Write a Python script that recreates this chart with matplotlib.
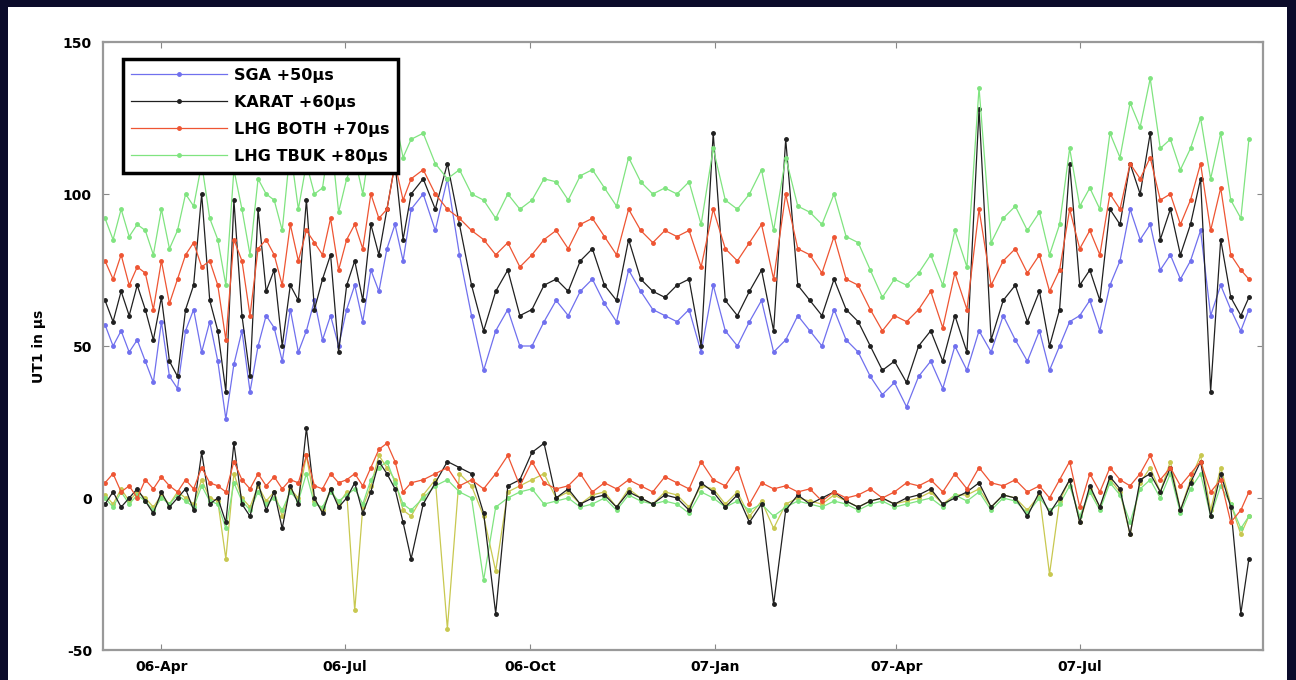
import numpy as np
import matplotlib
matplotlib.use("Agg")
import matplotlib.pyplot as plt
import matplotlib.dates as mdates
from matplotlib.patches import Rectangle

# ---- data -------------------------------------------------------------
start_date = "2006-03-04"
day_offsets = [
    0, 4, 8, 12, 16, 20, 24, 28, 32, 36,
    40, 44, 48, 52, 56, 60, 64, 68, 72, 76,
    80, 84, 88, 92, 96, 100, 104, 108, 112, 116,
    120, 124, 128, 132, 136, 140, 144, 148, 152, 158,
    164, 170, 176, 182, 188, 194, 200, 206, 212, 218,
    224, 230, 236, 242, 248, 254, 260, 266, 272, 278,
    284, 290, 296, 302, 308, 314, 320, 326, 332, 338,
    344, 350, 356, 362, 368, 374, 380, 386, 392, 398,
    404, 410, 416, 422, 428, 434, 440, 446, 452, 458,
    464, 469, 474, 479, 484, 489, 494, 499, 504, 509,
    514, 519, 524, 529, 534, 539, 544, 549, 554, 559,
    564, 568,
]

sga = [
    57, 50, 55, 48, 52, 45, 38, 58, 40, 36,
    55, 62, 48, 58, 45, 26, 44, 55, 35, 50,
    60, 56, 45, 62, 48, 55, 65, 52, 60, 50,
    62, 70, 58, 75, 68, 82, 90, 78, 95, 100,
    88, 105, 80, 60, 42, 55, 62, 50, 50, 58,
    65, 60, 68, 72, 64, 58, 75, 68, 62, 60,
    58, 62, 48, 70, 55, 50, 58, 65, 48, 52,
    60, 55, 50, 62, 52, 48, 40, 34, 38, 30,
    40, 45, 36, 50, 42, 55, 48, 60, 52, 45,
    55, 42, 50, 58, 60, 65, 55, 70, 78, 95,
    85, 90, 75, 80, 72, 78, 88, 60, 70, 62,
    55, 62,
]
karat = [
    65, 58, 68, 60, 70, 62, 52, 66, 45, 40,
    62, 70, 100, 65, 55, 35, 98, 60, 40, 95,
    68, 75, 50, 70, 65, 98, 62, 72, 80, 48,
    70, 78, 65, 90, 80, 95, 110, 85, 100, 105,
    95, 110, 90, 70, 55, 68, 75, 60, 62, 70,
    72, 68, 78, 82, 70, 65, 85, 72, 68, 66,
    70, 72, 50, 120, 65, 60, 68, 75, 55, 118,
    70, 65, 60, 72, 62, 58, 50, 42, 45, 38,
    50, 55, 45, 60, 48, 128, 52, 65, 70, 58,
    68, 50, 62, 110, 70, 75, 65, 95, 90, 110,
    100, 120, 85, 95, 80, 90, 105, 35, 85, 66,
    60, 66,
]
lhg_both = [
    78, 72, 80, 70, 76, 74, 62, 78, 64, 72,
    80, 84, 76, 78, 70, 52, 85, 78, 60, 82,
    85, 80, 70, 90, 78, 88, 84, 80, 92, 75,
    85, 90, 82, 100, 92, 95, 110, 98, 105, 108,
    100, 95, 92, 88, 85, 80, 84, 76, 80, 85,
    88, 82, 90, 92, 86, 80, 95, 88, 84, 88,
    86, 88, 76, 95, 82, 78, 84, 90, 72, 100,
    82, 80, 74, 86, 72, 70, 62, 55, 60, 58,
    62, 68, 56, 74, 62, 95, 70, 78, 82, 74,
    80, 68, 75, 95, 82, 88, 80, 100, 95, 110,
    105, 112, 98, 100, 90, 98, 110, 88, 102, 80,
    75, 72,
]
lhg_tbuk = [
    92, 85, 95, 86, 90, 88, 80, 95, 82, 88,
    100, 96, 110, 92, 85, 70, 108, 95, 80, 105,
    100, 98, 88, 115, 95, 110, 100, 102, 120, 94,
    105, 112, 100, 118, 108, 115, 125, 112, 118, 120,
    110, 105, 108, 100, 98, 92, 100, 95, 98, 105,
    104, 98, 106, 108, 102, 96, 112, 104, 100, 102,
    100, 104, 90, 115, 98, 95, 100, 108, 88, 112,
    96, 94, 90, 100, 86, 84, 75, 66, 72, 70,
    74, 80, 70, 88, 76, 135, 84, 92, 96, 88,
    94, 80, 90, 115, 96, 102, 95, 120, 112, 130,
    122, 138, 115, 118, 108, 115, 125, 105, 120, 98,
    92, 118,
]

diff_black = [
    -2, 2, -3, 0, 3, -1, -5, 2, -3, 0,
    3, -4, 15, -2, 0, -8, 18, -2, -6, 5,
    -4, 2, -10, 4, -2, 23, 0, -5, 3, -3,
    0, 5, -5, 2, 12, 8, 3, -8, -20, -2,
    5, 12, 10, 8, -5, -38, 4, 6, 15, 18,
    0, 3, -2, 0, 1, -3, 2, 0, -2, 1,
    0, -4, 5, 2, -3, 1, -8, -2, -35, -4,
    1, -2, 0, 2, -1, -3, -1, 0, -2, 0,
    1, 3, -2, 0, 2, 5, -3, 1, 0, -6,
    2, -5, 0, 6, -8, 4, -3, 7, 3, -12,
    6, 8, 2, 10, -4, 5, 12, -6, 8, -3,
    -38, -20,
]
diff_red = [
    5, 8, 2, 4, 0, 6, 3, 7, 4, 2,
    6, 3, 10, 5, 4, 2, 12, 6, 3, 8,
    4, 7, 3, 6, 5, 14, 4, 3, 8, 5,
    6, 8, 4, 10, 16, 18, 12, 2, 5, 6,
    8, 10, 4, 6, 3, 8, 14, 4, 12, 5,
    3, 4, 8, 2, 5, 3, 6, 4, 2, 7,
    5, 3, 12, 6, 4, 10, -2, 5, 3, 4,
    2, 3, -1, 2, 0, 1, 3, 0, 2, 5,
    4, 6, 2, 8, 3, 10, 5, 4, 6, 2,
    4, 0, 6, 12, -3, 8, 2, 10, 6, 4,
    8, 14, 6, 10, 4, 8, 12, 2, 6, -8,
    -4, 2,
]
diff_green = [
    0, -3, 2, -2, 1, -1, -4, 0, -2, 1,
    -1, -3, 4, -1, -2, -10, 5, -1, -4, 2,
    -2, 0, -4, 2, -1, 8, -2, -3, 2, -1,
    1, 3, -2, 6, 10, 12, 5, -2, -4, 0,
    4, 6, 2, 0, -27, -3, 0, 2, 3, -2,
    -1, 0, -3, -2, 0, -4, 1, -1, -2, -1,
    -2, -5, 2, 0, -3, -1, -4, -2, -6, -3,
    -1, -2, -3, -1, -2, -4, -2, -1, -3, -2,
    -1, 0, -3, 1, -1, 2, -4, 0, -1, -5,
    0, -4, -2, 4, -6, 2, -4, 5, 1, -8,
    3, 6, 0, 8, -5, 3, 8, -6, 4, -2,
    -10, -6,
]
diff_olive = [
    1, -2, 3, -1, 2, 0, -3, 1, -2, 2,
    0, -2, 6, 0, -1, -20, 8, 0, -3, 4,
    -1, 2, -6, 3, 0, 14, -1, -4, 3, -2,
    2, -37, -3, 4, 14, 10, 6, -4, -6, 1,
    6, -43, 8, 4, -6, -24, 2, 4, 6, 8,
    0, 2, -2, 1, 2, -3, 3, 0, -2, 2,
    1, -3, 4, 3, -2, 2, -6, -1, -10, -2,
    0, -1, -2, 1, -1, -3, -1, 0, -2, -1,
    0, 2, -2, 1, 1, 3, -3, 1, 0, -4,
    1, -25, -1, 6, -8, 3, -3, 6, 2, -12,
    5, 10, 2, 12, -4, 6, 14, -4, 10, -2,
    -12, -6,
]

legend_labels = ["SGA +50\u00b5s", "KARAT +60\u00b5s", "LHG BOTH +70\u00b5s", "LHG TBUK +80\u00b5s"]
tick_dates = ["2006-04-01", "2006-07-01", "2006-10-01", "2007-01-01", "2007-04-01", "2007-07-01"]
tick_labels = ["06-Apr", "06-Jul", "06-Oct", "07-Jan", "07-Apr", "07-Jul"]
y_ticks = [-50, 0, 50, 100, 150]

# ---- figure -----------------------------------------------------------
W, H = 1296, 680
fig = plt.figure(figsize=(W / 100, H / 100), dpi=100, facecolor="#0b0b2a")
fig.patches.append(Rectangle((8 / W, 0), (1287 - 8) / W, (H - 7) / H,
                             transform=fig.transFigure, facecolor="white",
                             edgecolor="none", zorder=-10))

ax = fig.add_axes([103 / W, 1 - 650 / H, (1263 - 103) / W, (650 - 42) / H])

dates = np.datetime64(start_date) + np.array(day_offsets).astype("timedelta64[D]")

blue = "#7070ee"
black = "#202020"
red = "#ee5533"
green = "#80e480"
olive = "#c8c850"

kw = dict(marker=".", markersize=5, linewidth=0.9)
# lower (difference) group
ax.plot(dates, diff_olive, color=olive, **kw)
ax.plot(dates, diff_green, color=green, **kw)
ax.plot(dates, diff_black, color=black, **kw)
ax.plot(dates, diff_red, color=red, **kw)
# upper offset group
l1, = ax.plot(dates, sga, color=blue, **kw)
l2, = ax.plot(dates, karat, color=black, **kw)
l3, = ax.plot(dates, lhg_both, color=red, **kw)
l4, = ax.plot(dates, lhg_tbuk, color=green, **kw)

ax.set_ylim(-50, 150)
ax.set_xlim(np.datetime64("2006-03-03"), np.datetime64("2007-09-30"))
ax.set_yticks(y_ticks)
ax.set_yticklabels([str(v) for v in y_ticks], fontweight="bold", fontsize=10)
ax.set_xticks([mdates.date2num(np.datetime64(d)) for d in tick_dates])
ax.set_xticklabels(tick_labels, fontweight="bold", fontsize=10)
ax.tick_params(direction="in", length=4, color="#888888", top=True, right=True)
ax.tick_params(axis="x", pad=7)
ax.tick_params(axis="y", pad=8)
for s in ax.spines.values():
    s.set_color("#999999")
    s.set_linewidth(1.6)
ax.set_ylabel("UT1 in \u00b5s", fontweight="bold", fontsize=10, labelpad=12)

leg = ax.legend([l1, l2, l3, l4], legend_labels, loc="upper left",
                bbox_to_anchor=(0.010, 0.985), numpoints=1, handlelength=6,
                handletextpad=0.4,
                prop=dict(weight="bold", size=11.5), fancybox=False,
                framealpha=1, borderpad=0.55, labelspacing=0.75)
leg.get_frame().set_edgecolor("black")
leg.get_frame().set_linewidth(2.5)

fig.savefig("out.png", dpi=100, facecolor=fig.get_facecolor())
